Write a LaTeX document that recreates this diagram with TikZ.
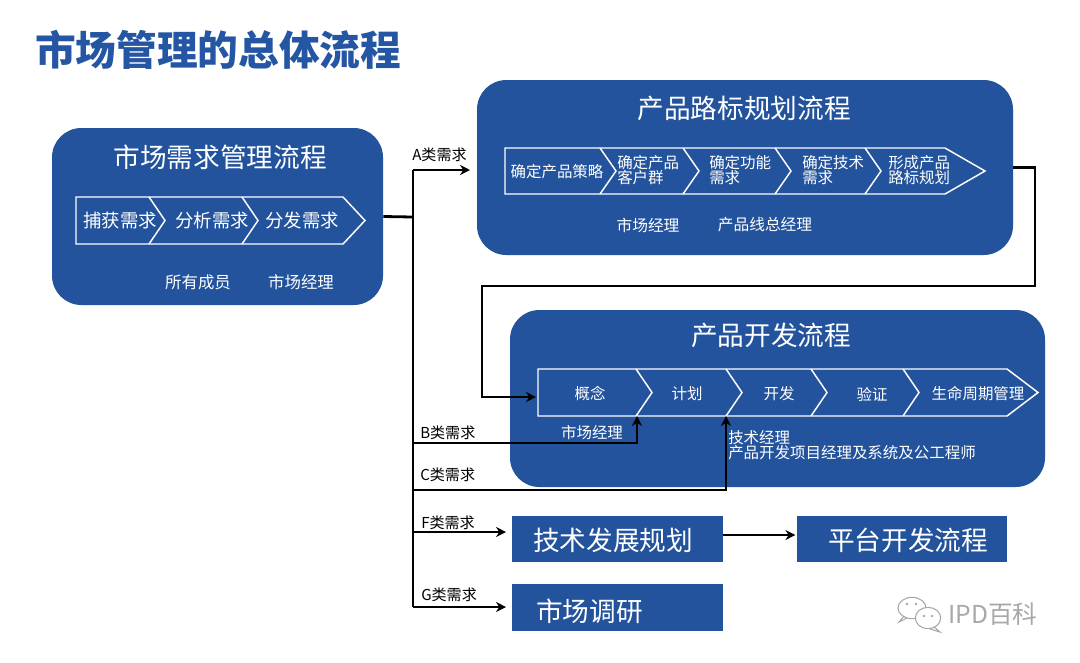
\documentclass[tikz,border=0pt]{standalone}
\usepackage{fontspec}
\setmainfont{Noto Sans CJK SC}
\usetikzlibrary{arrows.meta}
\definecolor{boxblue}{HTML}{23539C}
\definecolor{titleblue}{HTML}{2456A4}
\definecolor{wmgray}{HTML}{A8A8A8}
\begin{document}
\begin{tikzpicture}[x=0.75pt,y=-0.75pt,
  bigbox/.style={fill=boxblue, rounded corners=22pt, inner sep=0pt},
  flatbox/.style={fill=boxblue, inner sep=0pt, minimum width=158pt, minimum height=34.5pt},
  chev/.style={draw=white, line width=1.1pt, line join=miter},
  wtext/.style={text=white, inner sep=0pt},
  ktext/.style={text=black, inner sep=0pt, font=\fontsize{11.3}{13}\selectfont},
  conn/.style={draw=black, line width=2.1pt},
  arr/.style={conn, -{Stealth[length=7.5pt,width=7.5pt]}},
  boxtitle/.style={wtext, font=\fontsize{20}{24}\selectfont},
]
\useasboundingbox[fill=white] (0,0) rectangle (1080,662);

% main title
\node[anchor=west, text=titleblue, inner sep=0pt, font=\fontsize{30.5}{34}\selectfont\bfseries] (title) at (35,50) {市场管理的总体流程};

% ---------- box 1 ----------
\node[bigbox, minimum width=248.25pt, minimum height=132.75pt] (box1) at (217.5,216.5) {};
\node[boxtitle] (t1) at (220,157) {市场需求管理流程};
\draw[chev] (76,197) -- (343,197) -- (365,220.5) -- (343,244) -- (76,244) -- cycle;
\draw[chev] (149,197) -- (165,220.5) -- (149,244);
\draw[chev] (242,197) -- (258,220.5) -- (242,244);
\node[wtext, font=\fontsize{13.8}{16}\selectfont] (s11) at (120,220.5) {捕获需求};
\node[wtext, font=\fontsize{13.8}{16}\selectfont] (s12) at (212,220.5) {分析需求};
\node[wtext, font=\fontsize{13.8}{16}\selectfont] (s13) at (302,220.5) {分发需求};
\node[wtext, font=\fontsize{12.3}{14}\selectfont] (r11) at (198,282) {所有成员};
\node[wtext, font=\fontsize{12.3}{14}\selectfont] (r12) at (301,282) {市场经理};

% ---------- box 2 ----------
\node[bigbox, minimum width=402pt, minimum height=131.25pt] (box2) at (745,167.5) {};
\node[boxtitle] (t2) at (744,108) {产品路标规划流程};
\draw[chev] (505,148) -- (945,148) -- (985,171) -- (945,194) -- (505,194) -- cycle;
\foreach \bx in {600,683,775,865} \draw[chev] (\bx,148) -- (\bx+16,171) -- (\bx,194);
\node[wtext, font=\fontsize{11.6}{13}\selectfont] (s21) at (557,172) {确定产品策略};
\node[wtext, anchor=west, align=left, font=\fontsize{11.6}{11.8}\selectfont] (s22) at (617,170) {确定产品\\客户群};
\node[wtext, anchor=west, align=left, font=\fontsize{11.6}{11.8}\selectfont] (s23) at (709,170) {确定功能\\需求};
\node[wtext, anchor=west, align=left, font=\fontsize{11.6}{11.8}\selectfont] (s24) at (802,170) {确定技术\\需求};
\node[wtext, anchor=west, align=left, font=\fontsize{11.6}{11.8}\selectfont] (s25) at (888,170) {形成产品\\路标规划};
\node[wtext, font=\fontsize{11.8}{14}\selectfont] (r21) at (648,225) {市场经理};
\node[wtext, font=\fontsize{11.8}{14}\selectfont] (r22) at (765,225) {产品线总经理};

% ---------- box 3 ----------
\node[bigbox, minimum width=401.25pt, minimum height=132.75pt] (box3) at (777.5,398.5) {};
\node[boxtitle] (t3) at (771,335) {产品开发流程};
\draw[chev] (538,369) -- (1007,369) -- (1038,392.5) -- (1007,416) -- (538,416) -- cycle;
\foreach \bx in {636,726,811,903} \draw[chev] (\bx,369) -- (\bx+16,392.5) -- (\bx,416);
\node[wtext, font=\fontsize{11.6}{13}\selectfont] (s31) at (590,394) {概念};
\node[wtext, font=\fontsize{11.6}{13}\selectfont] (s32) at (687,394) {计划};
\node[wtext, font=\fontsize{11.6}{13}\selectfont] (s33) at (779,394) {开发};
\node[wtext, font=\fontsize{11.6}{13}\selectfont] (s34) at (872,394) {验证};
\node[wtext, font=\fontsize{11.6}{13}\selectfont] (s35) at (978,394) {生命周期管理};
\node[wtext, font=\fontsize{11.6}{13}\selectfont] (r31) at (592,433) {市场经理};
\node[wtext, anchor=west, font=\fontsize{11.6}{13}\selectfont] (r32) at (728,438) {技术经理};
\node[wtext, anchor=west, font=\fontsize{11.6}{13}\selectfont] (r33) at (728,453) {产品开发项目经理及系统及公工程师};

% ---------- bottom boxes ----------
\node[flatbox, minimum width=158.25pt, minimum height=34.5pt] (tech) at (617.5,539) {};
\node[wtext, font=\fontsize{20}{24}\selectfont] (techt) at (613,540) {技术发展规划};
\node[flatbox, minimum width=157.5pt, minimum height=34.5pt] (plat) at (902,539) {};
\node[wtext, font=\fontsize{20}{24}\selectfont] (platt) at (908,540) {平台开发流程};
\node[flatbox, minimum width=158.25pt, minimum height=35.25pt] (mkt) at (617.5,607.5) {};
\node[wtext, anchor=west, font=\fontsize{20}{24}\selectfont] (mktt) at (536,611) {市场调研};

% ---------- connector points ----------
\coordinate (tA) at (413,170);
\coordinate (tTop) at (413,217);
\coordinate (tB) at (413,443);
\coordinate (tC) at (413,490);
\coordinate (tF) at (413,532);
\coordinate (tG) at (413,607);
\coordinate (eA) at (470,170);
\coordinate (eF) at (506,532);
\coordinate (eG) at (506,607);
\coordinate (k1) at (1035,286);
\coordinate (k2) at (482,286);
\coordinate (in3) at (536,397);
\coordinate (pB) at (637,416);
\coordinate (pC) at (726,416);

% ---------- connectors ----------
\draw[conn] (box1.east) -- (tTop);
\draw[conn] (tA) -- (tG);
\draw[arr] (tA) -- (eA);
\draw[arr] (box2.east) -| (k1) -- (k2) |- (in3);
\draw[arr] (tB) -| (pB);
\draw[arr] (tC) -| (pC);
\draw[arr] (tF) -- (eF);
\draw[arr] (tG) -- (eG);
\draw[arr] ([yshift=3pt]tech.east) -- ([yshift=3pt,xshift=-1pt]plat.west);

% ---------- connector labels ----------
\node[ktext, anchor=west] (lA) at (412,155) {A类需求};
\node[ktext, anchor=west] (lB) at (420,433) {B类需求};
\node[ktext, anchor=west] (lC) at (420,475) {C类需求};
\node[ktext, anchor=west] (lF) at (421,523) {F类需求};
\node[ktext, anchor=west] (lG) at (421,595) {G类需求};

% ---------- watermark ----------
\draw[wmgray, line width=0.8pt] (912,608) ellipse [x radius=10.5pt, y radius=8pt];
\draw[wmgray, line width=0.8pt] (904,616) -- (899,622) -- (907,618);
\draw[wmgray, line width=0.8pt, fill=white] (928,618) ellipse [x radius=9.5pt, y radius=8pt];
\draw[wmgray, line width=0.8pt] (934,627) -- (940,632) -- (930,629);
\fill[wmgray] (907,604) circle (1pt) (916,604) circle (1pt) (924,616) circle (1pt) (932,616) circle (1pt);
\node[text=wmgray, anchor=west, inner sep=0pt, font=\fontsize{18.5}{22}\selectfont] (wm) at (948,614) {IPD百科};
\end{tikzpicture}
\end{document}
